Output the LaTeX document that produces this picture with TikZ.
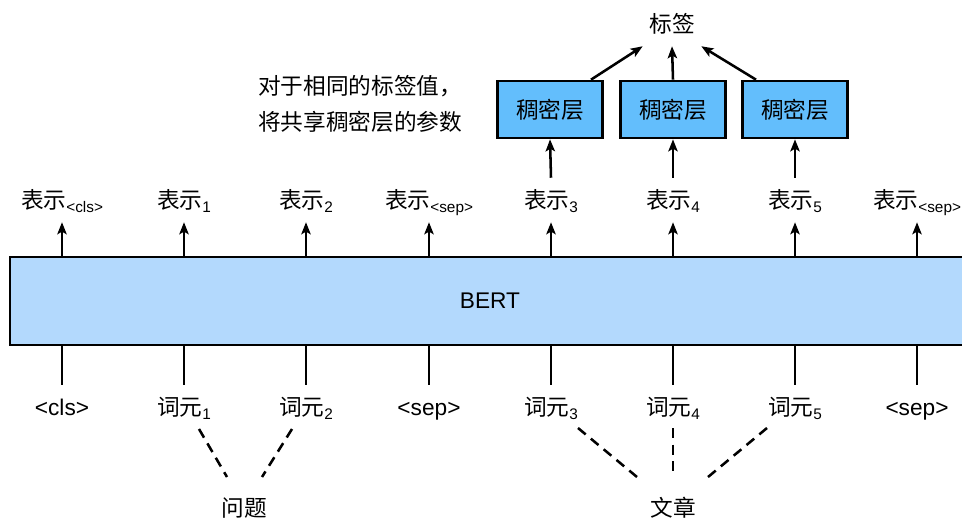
\documentclass[tikz,border=0pt]{standalone}
\usepackage{fontspec}
\setmainfont{Liberation Sans}
\newfontfamily\cjk{Noto Sans CJK SC}
\usetikzlibrary{arrows.meta,calc}
\definecolor{bertblue}{HTML}{B3D9FD}
\definecolor{denseblue}{HTML}{63BEFC}
\newcommand\subf{\fontsize{11.5}{12}\selectfont}
\newcommand\rep[1]{{\cjk 表示}\raisebox{-3pt}{\subf #1}}
\newcommand\tok[1]{{\cjk 词元}\raisebox{-3pt}{\subf #1}}
\begin{document}
\begin{tikzpicture}[x=0.75pt,y=-0.75pt,
  every node/.style={font=\fontsize{17}{20}\selectfont},
  lbl/.style={inner sep=0pt, text height=23pt, text depth=10pt},
  arr/.style={line width=1.9pt, -{Stealth[length=9pt,width=7pt,inset=2pt]}},
  ln/.style={line width=1.9pt},
  dsh/.style={line width=1.9pt, dash pattern=on 7.5pt off 5pt},
  bertbox/.style={draw, line width=2pt, fill=bertblue, minimum width=720pt, minimum height=66pt, inner sep=0pt},
  densebox/.style={draw, line width=2pt, fill=denseblue, minimum width=78.75pt, minimum height=42.75pt, inner sep=0pt, font=\fontsize{17}{20}\selectfont\cjk}]
\useasboundingbox (0,0) rectangle (962,518);
\clip (0,0) rectangle (962,518);

\node[bertbox] (bert) at (490,301) {BERT};

% representation labels
\node[lbl] (r0) at (62,200) {\rep{<cls>}};
\node[lbl] (r1) at (184,200) {\rep{1}};
\node[lbl] (r2) at (306,200) {\rep{2}};
\node[lbl] (r3) at (429,200) {\rep{<sep>}};
\node[lbl] (r4) at (551,200) {\rep{3}};
\node[lbl] (r5) at (673,200) {\rep{4}};
\node[lbl] (r6) at (795,200) {\rep{5}};
\node[lbl] (r7) at (917,200) {\rep{<sep>}};

\foreach \i in {0,...,7}{
  \draw[arr] (bert.north -| r\i.south) -- (r\i.south);
}

% token labels
\node[lbl] (w0) at (62,407) {<cls>};
\node[lbl] (w1) at (184,407) {\tok{1}};
\node[lbl] (w2) at (306,407) {\tok{2}};
\node[lbl] (w3) at (429,407) {<sep>};
\node[lbl] (w4) at (551,407) {\tok{3}};
\node[lbl] (w5) at (673,407) {\tok{4}};
\node[lbl] (w6) at (795,407) {\tok{5}};
\node[lbl] (w7) at (917,407) {<sep>};

\foreach \i in {0,...,7}{
  \draw[ln] (bert.south -| w\i.north) -- (w\i.north);
}

% dense layers
\node[densebox] (b4) at (550,109.5) {稠密层};
\node[densebox] (b5) at (673,109.5) {稠密层};
\node[densebox] (b6) at (795,109.5) {稠密层};

\draw[arr] (r4.north) -- (b4.south);
\draw[arr] (r5.north) -- (b5.south);
\draw[arr] (r6.north) -- (b6.south);

\node[lbl,font=\fontsize{17}{20}\selectfont\cjk] (tag) at (672,24) {标签};
\draw[arr] ([xshift=30.75pt]b4.north) -- ([xshift=-22pt]tag.south);
\draw[arr] (b5.north) -- (tag.south);
\draw[arr] ([xshift=-29.25pt]b6.north) -- ([xshift=22pt]tag.south);

\node[anchor=west, align=left, inner sep=0pt, font=\fontsize{17}{27}\selectfont\cjk] (note) at (258,104) {对于相同的标签值，\\将共享稠密层的参数};

% question / passage
\node[lbl,font=\fontsize{17}{20}\selectfont\cjk] (q) at (244,508) {问题};
\node[lbl,font=\fontsize{17}{20}\selectfont\cjk] (p) at (673,508) {文章};

\coordinate (q1) at (199,429);
\coordinate (q2) at (292,429);
\coordinate (qa) at (227,477);
\coordinate (qb) at (262,477);
\coordinate (p1) at (578,428);
\coordinate (p2) at (673,428);
\coordinate (p3) at (767,428);
\coordinate (pa) at (637,477);
\coordinate (pb) at (673,477);
\coordinate (pc) at (708,477);
\draw[dsh] (q1) -- (qa);
\draw[dsh] (q2) -- (qb);
\draw[dsh] (p1) -- (pa);
\draw[dsh] (p2) -- (pb);
\draw[dsh] (p3) -- (pc);
\end{tikzpicture}
\end{document}
